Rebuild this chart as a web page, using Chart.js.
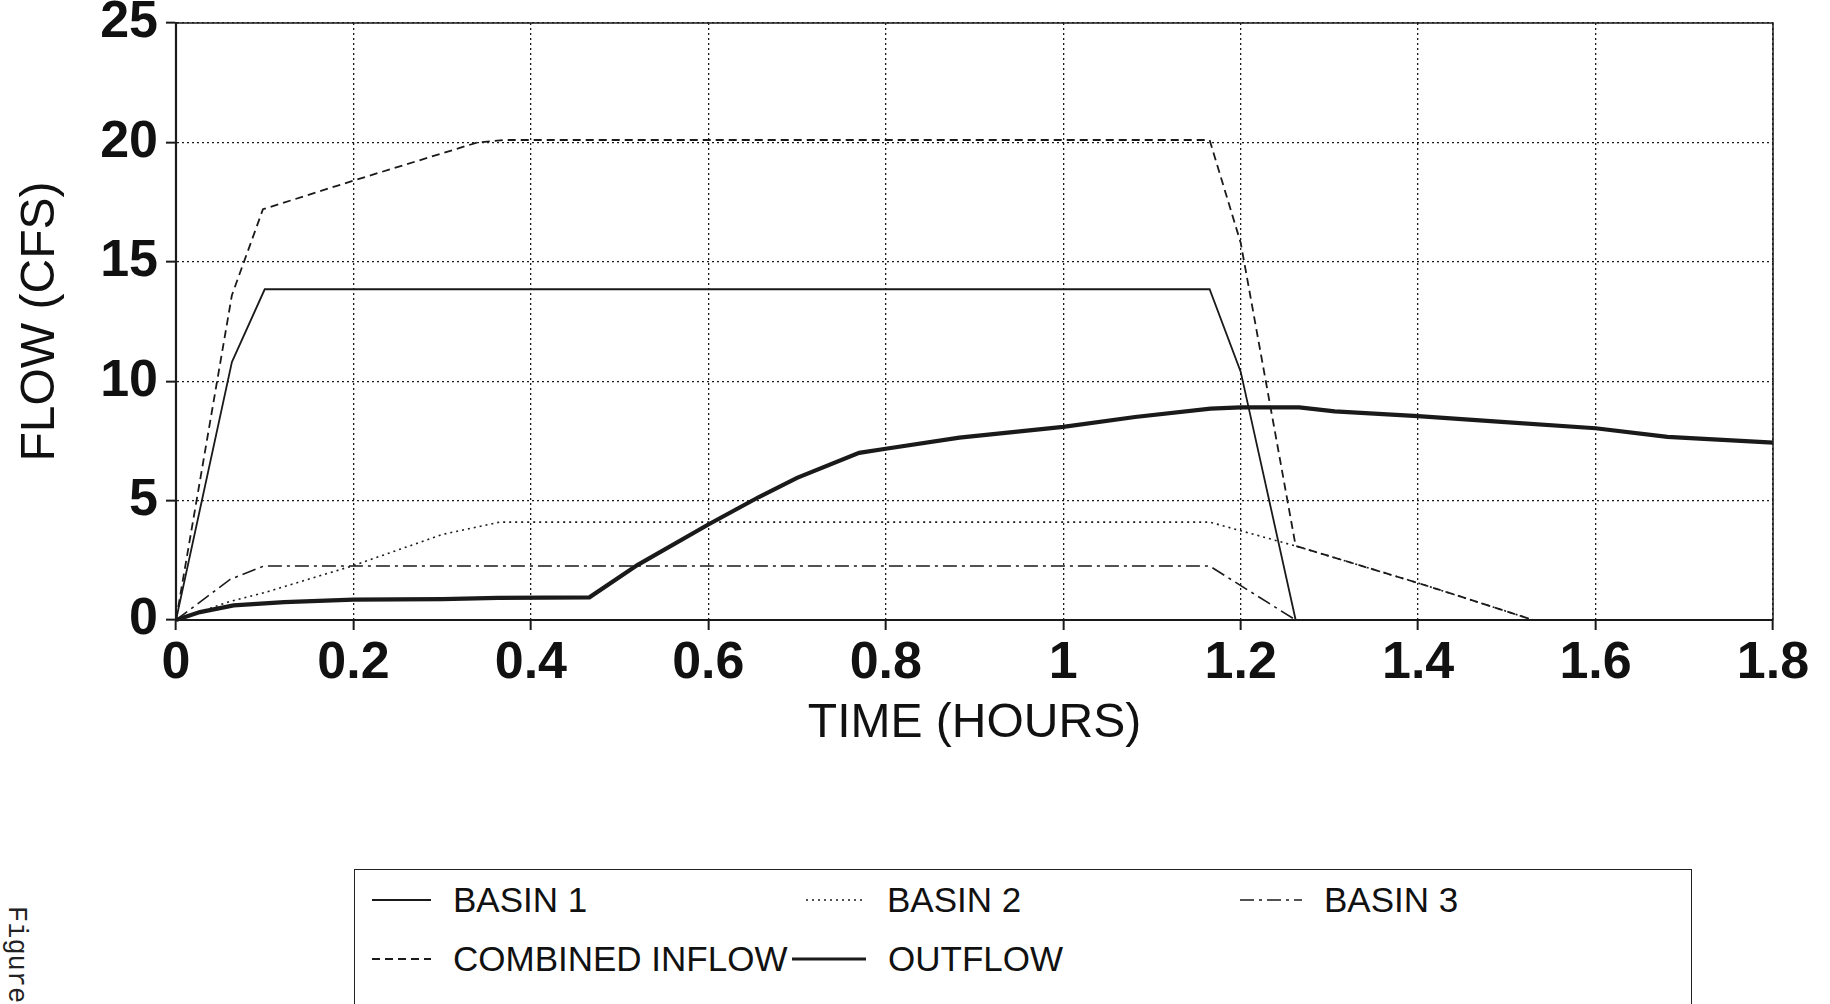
<!DOCTYPE html>
<html lang="en">
<head>
  <meta charset="UTF-8" />
  <title>Flow (CFS) vs Time (Hours)</title>
  <script src="https://cdn.jsdelivr.net/npm/chart.js"></script>
  <style>
    body {
      margin: 0;
      background: #fff;
      font-family: "Liberation Sans", Arial, sans-serif;
      width: 1830px;
      height: 1004px;
      overflow: hidden;
      position: relative;
    }
    #chartBox {
      position: absolute;
      left: 0;
      top: 0;
      width: 1830px;
      height: 760px;
    }
    #legend {
      position: absolute;
      left: 354px;
      top: 869px;
      width: 1338px;
      height: 200px;
      border: 1.5px solid #222;
      box-sizing: border-box;
    }
    .item {
      position: absolute;
      height: 40px;
      display: flex;
      align-items: center;
      font-size: 35px;
      color: #111;
      white-space: nowrap;
    }
    .item svg { margin-right: 22px; }
    #fig {
      position: absolute;
      left: 1px;
      top: 906px;
      writing-mode: vertical-rl;
      font-family: "Liberation Mono", "Courier New", monospace;
      font-size: 27px;
      color: #222;
    }
  </style>
</head>
<body>
  <div id="chartBox"><canvas id="flowChart"></canvas></div>
  <div id="legend"></div>
  <div id="fig">Figure</div>

  <script>
    // time (hours), flow (cfs)
    const basin1 = [[0, 0], [0.063, 10.8], [0.1, 13.85], [1.165, 13.85], [1.2, 10.4], [1.262, 0]];
    const basin2 = [[0, 0], [0.061, 0.78], [0.1, 1.15], [0.2, 2.28], [0.3, 3.58], [0.365, 4.1],
                    [1.165, 4.1], [1.262, 3.1], [1.4, 1.55], [1.53, 0], [1.8, 0]];
    const basin3 = [[0, 0], [0.061, 1.7], [0.099, 2.26], [1.165, 2.26], [1.262, 0]];
    const combined = [[0, 0], [0.063, 13.6], [0.098, 17.2], [0.2, 18.4], [0.34, 20.0], [0.37, 20.1],
                      [1.165, 20.1], [1.2, 15.8], [1.262, 3.1], [1.4, 1.55], [1.53, 0], [1.8, 0]];
    const outflow = [[0, 0], [0.027, 0.33], [0.065, 0.61], [0.122, 0.75], [0.2, 0.85], [0.3, 0.87],
                     [0.363, 0.93], [0.466, 0.95], [0.52, 2.3], [0.6, 4.0], [0.657, 5.15], [0.7, 5.95],
                     [0.77, 7.0], [0.8, 7.17], [0.883, 7.64], [1.0, 8.09], [1.081, 8.5], [1.166, 8.85],
                     [1.2, 8.9], [1.266, 8.9], [1.306, 8.74], [1.4, 8.54], [1.494, 8.3], [1.6, 8.03],
                     [1.681, 7.67], [1.8, 7.43]];

    const seriesNames = ["BASIN 1", "BASIN 2", "BASIN 3", "COMBINED INFLOW", "OUTFLOW"];
    const xTicks = [0, 0.2, 0.4, 0.6, 0.8, 1, 1.2, 1.4, 1.6, 1.8];
    const yTicks = [0, 5, 10, 15, 20, 25];

    const ink = "#1a1a1a";
    const styles = [
      { width: 1.8, dash: [] },
      { width: 1.6, dash: [2, 4] },
      { width: 1.6, dash: [14, 5, 3, 5] },
      { width: 1.8, dash: [8, 5] },
      { width: 4.2, dash: [] }
    ];

    const toPoints = arr => arr.map(p => ({ x: p[0], y: p[1] }));
    const allSeries = [basin1, basin2, basin3, combined, outflow];

    const datasets = allSeries.map((s, i) => ({
      label: seriesNames[i],
      data: toPoints(s),
      borderColor: ink,
      borderWidth: styles[i].width,
      borderDash: styles[i].dash,
      pointRadius: 0,
      tension: 0,
      fill: false,
      clip: 6
    }));

    // frame around the plot area
    const frame = {
      id: "frame",
      afterDatasetsDraw(chart) {
        const { ctx, chartArea: a } = chart;
        ctx.save();
        ctx.strokeStyle = ink;
        ctx.lineWidth = 1.5;
        ctx.strokeRect(a.left, a.top, a.right - a.left, a.bottom - a.top);
        ctx.lineWidth = 2.2;
        ctx.beginPath();
        ctx.moveTo(a.left, a.top);
        ctx.lineTo(a.left, a.bottom);
        ctx.stroke();
        ctx.restore();
      }
    };

    const tickFont = { family: "Liberation Sans", size: 52, weight: "bold", lineHeight: 0.9 };
    const titleFont = { family: "Liberation Sans", size: 48 };

    // fixed axis boxes so the plot area lands where it should
    const fitX = axis => { axis.height = 140; axis.paddingLeft = 0; axis.paddingRight = 0; };
    const fitY = axis => { axis.width = 176; axis.paddingTop = 0; axis.paddingBottom = 0; };

    const chart = new Chart(document.getElementById("flowChart"), {
      type: "line",
      data: { datasets: datasets },
      plugins: [frame],
      options: {
        responsive: true,
        maintainAspectRatio: false,
        animation: false,
        layout: { padding: { left: 0, right: 57, top: 23, bottom: 0 } },
        plugins: { legend: { display: false }, tooltip: { enabled: false } },
        scales: {
          x: {
            type: "linear",
            min: 0,
            max: 1.8,
            afterBuildTicks: axis => { axis.ticks = xTicks.map(v => ({ value: v })); },
            afterFit: fitX,
            ticks: {
              color: "#111",
              font: tickFont,
              padding: 10,
              maxRotation: 0,
              callback: v => String(Number(v.toFixed(1)))
            },
            grid: { color: ink, lineWidth: 1.3, tickLength: 10, tickColor: ink, tickWidth: 2, tickBorderDash: [] },
            border: { display: true, color: ink, width: 2, dash: [2, 3] },
            title: { display: true, text: "TIME (HOURS)", color: "#111", font: titleFont, padding: { top: 0, bottom: 7 } }
          },
          y: {
            min: 0,
            max: 25,
            afterBuildTicks: axis => { axis.ticks = yTicks.map(v => ({ value: v })); },
            afterFit: fitY,
            ticks: { color: "#111", font: tickFont, padding: 8 },
            grid: { color: ink, lineWidth: 1.3, tickLength: 10, tickColor: ink, tickWidth: 2, tickBorderDash: [] },
            border: { display: true, color: ink, width: 2, dash: [2, 3] },
            title: { display: true, text: "FLOW (CFS)", color: "#111", font: titleFont, padding: { top: 12, bottom: 0 } }
          }
        }
      }
    });

    // legend below the chart
    const legendSpots = [
      { left: 17, top: 10, len: 59 },
      { left: 451, top: 10, len: 59 },
      { left: 885, top: 10, len: 62 },
      { left: 17, top: 69, len: 59 },
      { left: 437, top: 69, len: 74 }
    ];
    const legend = document.getElementById("legend");
    chart.data.datasets.forEach((ds, i) => {
      const spot = legendSpots[i];
      const el = document.createElement("div");
      el.className = "item";
      el.style.left = spot.left + "px";
      el.style.top = spot.top + "px";
      const w = Math.min(ds.borderWidth, 3.2);
      el.innerHTML =
        `<svg width="${spot.len}" height="10"><line x1="0" y1="5" x2="${spot.len}" y2="5" stroke="${ink}" ` +
        `stroke-width="${w}" stroke-dasharray="${ds.borderDash.join(" ")}"/></svg><span>${ds.label}</span>`;
      legend.appendChild(el);
    });
  </script>
</body>
</html>
